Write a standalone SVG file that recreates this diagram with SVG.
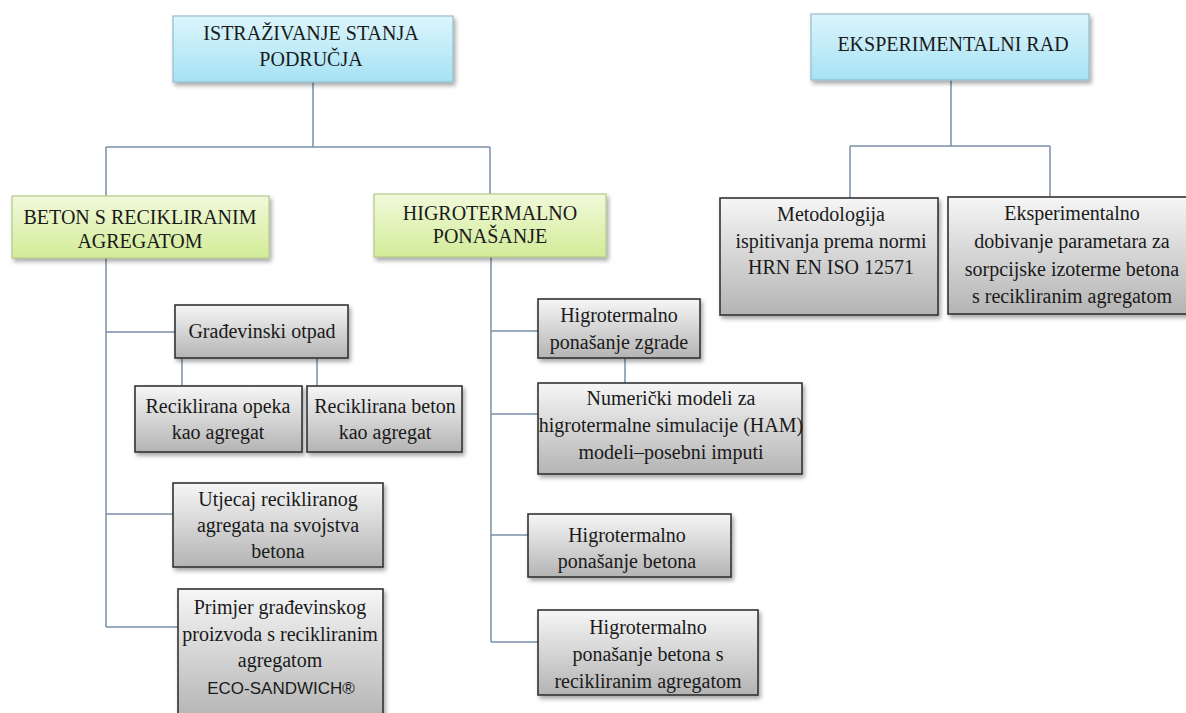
<svg xmlns="http://www.w3.org/2000/svg" width="1186" height="713" viewBox="0 0 1186 713">
<style>
.t{font-family:"Liberation Serif","Times New Roman",serif;font-size:20px;fill:#1a1a1a;text-anchor:middle}
.s{font-family:"Liberation Sans",Arial,sans-serif;font-size:17px;fill:#1a1a1a;text-anchor:middle}
.blue{fill:url(#gBlue);stroke:#93bccb;stroke-width:1.2;filter:url(#sh)}
.green{fill:url(#gGreen);stroke:#b4c88a;stroke-width:1.2;filter:url(#sh)}
.grey{fill:url(#gGrey);stroke:#333;stroke-width:1.6;filter:url(#sh)}
.c{stroke:#7890a6;stroke-width:1.5;fill:none}
</style>
<defs>
<linearGradient id="gBlue" x1="0" y1="0" x2="0" y2="1"><stop offset="0" stop-color="#dcf5fc"/><stop offset="1" stop-color="#a6e2f4"/></linearGradient>
<linearGradient id="gGreen" x1="0" y1="0" x2="0" y2="1"><stop offset="0" stop-color="#f1f9da"/><stop offset="1" stop-color="#d2ec98"/></linearGradient>
<linearGradient id="gGrey" x1="0" y1="0" x2="0" y2="1"><stop offset="0" stop-color="#f6f6f6"/><stop offset="1" stop-color="#b4b4b4"/></linearGradient>
<filter id="sh" x="-10%" y="-10%" width="125%" height="130%"><feDropShadow dx="2" dy="3" stdDeviation="2" flood-color="#000" flood-opacity="0.35"/></filter>
</defs>
<rect width="1186" height="713" fill="#fff"/>
<g id="connectors">
<path class="c" d="M313 82V147M106 147H490M106 147V196M490 147V194"/>
<path class="c" d="M951 80V146M850 146H1050M850 146V198M1050 146V197"/>
<path class="c" d="M106 258V627M106 332H175M106 514H173M106 627H178"/>
<path class="c" d="M182 358V386M317 358V386"/>
<path class="c" d="M491 257V642M491 331H538M491 414H538M491 535H528M491 642H538"/>
<path class="c" d="M625 353V383"/>
</g>
<g id="n1"><rect class="blue" x="173" y="16" width="280" height="66"/><text class="t" x="311" y="40">ISTRAŽIVANJE  STANJA</text><text class="t" x="311" y="66">PODRUČJA</text></g>
<g id="n2"><rect class="blue" x="811" y="14" width="278" height="66"/><text class="t" x="953" y="51">EKSPERIMENTALNI  RAD</text></g>
<g id="n3"><rect class="green" x="12" y="196" width="257" height="62"/><text class="t" x="140" y="224">BETON S RECIKLIRANIM</text><text class="t" x="140" y="248">AGREGATOM</text></g>
<g id="n4"><rect class="green" x="374" y="194" width="232" height="63"/><text class="t" x="490" y="220">HIGROTERMALNO</text><text class="t" x="490" y="243">PONAŠANJE</text></g>
<g id="n5"><rect class="grey" x="720" y="198" width="218" height="117"/><text class="t" x="831" y="221">Metodologija</text><text class="t" x="831" y="248">ispitivanja  prema normi</text><text class="t" x="831" y="274">HRN EN ISO 12571</text></g>
<g id="n6"><rect class="grey" x="948" y="197" width="240" height="117"/><text class="t" x="1072" y="220">Eksperimentalno</text><text class="t" x="1072" y="248">dobivanje  parametara  za</text><text class="t" x="1072" y="276">sorpcijske  izoterme  betona</text><text class="t" x="1072" y="303">s recikliranim  agregatom</text></g>
<g id="n7"><rect class="grey" x="175" y="305" width="173" height="53"/><text class="t" x="262" y="338">Građevinski  otpad</text></g>
<g id="n8"><rect class="grey" x="135" y="386" width="167" height="66"/><text class="t" x="218" y="413">Reciklirana  opeka</text><text class="t" x="218" y="439">kao agregat</text></g>
<g id="n9"><rect class="grey" x="307" y="386" width="155" height="66"/><text class="t" x="385" y="413">Reciklirana  beton</text><text class="t" x="385" y="439">kao agregat</text></g>
<g id="n10"><rect class="grey" x="173" y="483" width="210" height="84"/><text class="t" x="278" y="506">Utjecaj recikliranog</text><text class="t" x="278" y="532">agregata  na  svojstva</text><text class="t" x="278" y="558">betona</text></g>
<g id="n11"><rect class="grey" x="178" y="589" width="205" height="130"/><text class="t" x="280" y="614">Primjer  građevinskog</text><text class="t" x="280" y="641">proizvoda  s recikliranim</text><text class="t" x="280" y="667">agregatom</text><text class="s" x="281" y="694">ECO-SANDWICH®</text></g>
<g id="n12"><rect class="grey" x="538" y="299" width="162" height="59"/><text class="t" x="619" y="322">Higrotermalno</text><text class="t" x="619" y="349">ponašanje  zgrade</text></g>
<g id="n13"><rect class="grey" x="538" y="383" width="264" height="91"/><text class="t" x="671" y="405">Numerički  modeli  za</text><text class="t" x="671" y="432">higrotermalne  simulacije  (HAM)</text><text class="t" x="671" y="459">modeli–posebni  imputi</text></g>
<g id="n14"><rect class="grey" x="528" y="514" width="203" height="63"/><text class="t" x="627" y="542">Higrotermalno</text><text class="t" x="627" y="568">ponašanje  betona</text></g>
<g id="n15"><rect class="grey" x="538" y="610" width="220" height="85"/><text class="t" x="648" y="634">Higrotermalno</text><text class="t" x="648" y="661">ponašanje  betona  s</text><text class="t" x="648" y="688">recikliranim  agregatom</text></g>
</svg>
